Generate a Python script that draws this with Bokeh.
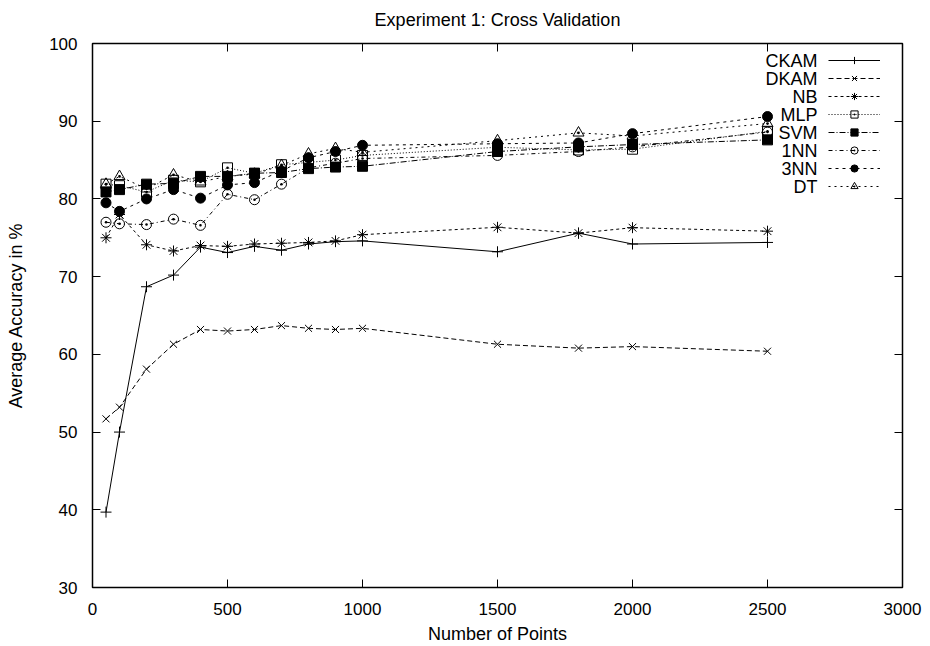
from bokeh.plotting import figure
from bokeh.models import (LinearAxis, Range1d, Legend, LegendItem, Label,
                          SingleIntervalTicker, CustomJSTickFormatter)
from bokeh.embed import file_html
from bokeh.resources import INLINE

# ---------------- data ----------------
num_points = [50, 100, 200, 300, 400, 500, 600, 700, 800, 900, 1000, 1500, 1800, 2000, 2500]

ckam = [39.7, 50.0, 68.7, 70.2, 73.8, 73.1, 73.9, 73.4, 74.2, 74.5, 74.6, 73.2, 75.6, 74.2, 74.4]
dkam = [51.7, 53.2, 58.1, 61.3, 63.2, 63.0, 63.2, 63.7, 63.35, 63.2, 63.35, 61.3, 60.8, 61.0, 60.4]
nb   = [75.0, 78.0, 74.1, 73.3, 74.0, 73.9, 74.2, 74.3, 74.4, 74.6, 75.4, 76.35, 75.6, 76.3, 75.85]
mlp  = [81.9, 81.7, 80.9, 82.4, 82.2, 84.0, 83.3, 84.4, 84.7, 85.0, 85.6, 86.65, 86.3, 86.4, 88.7]
svm  = [80.9, 81.2, 81.9, 82.0, 82.9, 82.9, 83.3, 83.4, 83.9, 84.1, 84.2, 86.1, 86.7, 87.0, 87.6]
nn1  = [77.0, 76.8, 76.7, 77.4, 76.6, 80.6, 79.9, 81.9, 84.0, 84.6, 85.2, 85.6, 86.1, 86.7, 88.6]
nn3  = [79.5, 78.4, 80.0, 81.2, 80.1, 81.8, 82.1, 83.6, 85.3, 86.1, 86.9, 87.1, 87.2, 88.4, 90.6]
dt   = [81.9, 82.9, 81.3, 83.1, 82.2, 82.9, 83.2, 84.3, 85.8, 86.5, 86.0, 87.5, 88.5, 88.1, 89.7]

series_names = ["CKAM", "DKAM", "NB", "MLP", "SVM", "1NN", "3NN", "DT"]
series_values = [ckam, dkam, nb, mlp, svm, nn1, nn3, dt]

x_ticks_step = 500
y_ticks_step = 10

# ---------------- styles ----------------
FONT = "Liberation Sans"
styles = {
    "CKAM": dict(dash="solid", marker="cross", size=11, fill=None),
    "DKAM": dict(dash="5 3", marker="x", size=10, fill=None),
    "NB":   dict(dash="3 3", marker="asterisk", size=11, fill=None),
    "MLP":  dict(dash="1 2", marker="square_dot", size=10, fill=None),
    "SVM":  dict(dash="6 2 1 2", marker="square", size=10, fill="black"),
    "1NN":  dict(dash="4 3 1 3", marker="circle_dot", size=10, fill=None),
    "3NN":  dict(dash="3 4", marker="circle", size=10, fill="black"),
    "DT":   dict(dash="2 4", marker="triangle_dot", size=11, fill=None),
}

p = figure(width=930, height=646, output_backend="svg", toolbar_location=None,
           x_range=Range1d(0, 3000), y_range=Range1d(30, 100),
           min_border_left=92, min_border_right=28, min_border_top=43,
           min_border_bottom=59)

p.title.text = "Experiment 1: Cross Validation"
p.title.align = "center"
p.title.vertical_align = "top"
p.title.text_font = FONT
p.title.text_font_size = "18px"
p.title.text_font_style = "normal"
p.title.text_color = "black"
p.title.standoff = 16

p.grid.grid_line_color = None
p.outline_line_color = "black"
p.outline_line_width = 1.5
p.background_fill_color = "white"
p.border_fill_color = "white"

def style_axis(ax, show_labels=True):
    ax.axis_line_color = None
    ax.major_tick_in = 8
    ax.major_tick_out = 0
    ax.major_tick_line_color = "black"
    ax.major_tick_line_width = 1
    ax.minor_tick_line_color = None
    ax.major_label_text_font = FONT
    ax.major_label_text_color = "black"
    ax.major_label_text_font_size = "17px"
    ax.major_label_standoff = 11
    if not show_labels:
        ax.formatter = CustomJSTickFormatter(code="return ''")
        ax.major_label_text_font_size = "8px"
        ax.major_label_standoff = 2
    ax.axis_label_text_font = FONT
    ax.axis_label_text_font_size = "18px"
    ax.axis_label_text_font_style = "normal"
    ax.axis_label_text_color = "black"

p.xaxis.ticker = SingleIntervalTicker(interval=x_ticks_step)
p.yaxis.ticker = SingleIntervalTicker(interval=y_ticks_step)
p.xaxis.axis_label = "Number of Points"
p.yaxis.axis_label = "Average Accuracy in %"
style_axis(p.xaxis[0])
style_axis(p.yaxis[0])
p.xaxis.axis_label_standoff = 6
p.yaxis.axis_label_standoff = 20

top_axis = LinearAxis(ticker=SingleIntervalTicker(interval=x_ticks_step))
style_axis(top_axis, show_labels=False)
p.add_layout(top_axis, "above")
right_axis = LinearAxis(ticker=SingleIntervalTicker(interval=y_ticks_step))
style_axis(right_axis, show_labels=False)
p.add_layout(right_axis, "right")

items = []
for name, vals in zip(series_names, series_values):
    st = styles[name]
    ln = p.line(num_points, vals, line_color="black", line_width=1,
                line_dash=st["dash"])
    sc = p.scatter(num_points, vals, marker=st["marker"], size=st["size"],
                   line_color="black", line_width=1,
                   fill_color=st["fill"])
    items.append(LegendItem(label="", renderers=[ln, sc]))

# legend samples (gnuplot style: text on the left, sample on the right)
ROW_H = 18
legend = Legend(items=items, location=(736, 392),
                glyph_width=52, glyph_height=ROW_H, label_standoff=0,
                label_text_font=FONT, label_text_font_size="1px",
                label_height=0, label_width=0,
                spacing=0, padding=0, margin=0,
                border_line_color=None, background_fill_alpha=0)
p.add_layout(legend, "center")

# legend texts, right-aligned just left of the samples
for i, name in enumerate(series_names):
    p.add_layout(Label(x=725, y=527 - ROW_H * i, x_units="screen", y_units="screen",
                       text=name, text_align="right", text_baseline="middle",
                       text_font=FONT, text_font_size="18px", text_color="black"))

open("out.html", "w").write(file_html(p, INLINE))
